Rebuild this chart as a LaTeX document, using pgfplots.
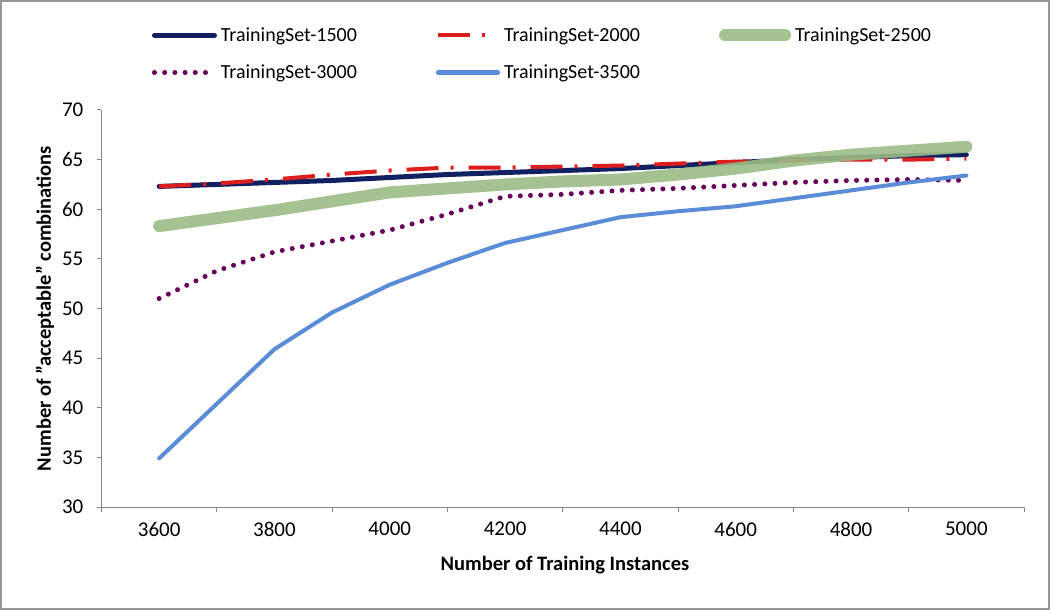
\documentclass[border=0pt]{standalone}
\usepackage{pgfplots}
\pgfplotsset{compat=1.18}
\usepackage{pgfplotstable}
\usepackage{fontspec}
\setmainfont{Carlito}
\definecolor{navyc}{RGB}{16,32,96}
\definecolor{redc}{RGB}{220,30,30}
\definecolor{greenc}{RGB}{155,187,135}
\definecolor{purplec}{RGB}{102,0,90}
\definecolor{bluec}{RGB}{91,140,215}
\definecolor{axisgray}{RGB}{134,134,134}
\definecolor{bordergray}{RGB}{150,150,150}

\pgfplotstableread{
x s1500 s2000 s2500 s3000 s3500
3600 62.3 62.3 58.3 51.0 34.9
3700 62.5 62.6 59.1 53.8 40.4
3800 62.7 63.0 59.9 55.7 45.9
3900 62.9 63.5 60.8 56.8 49.6
4000 63.2 63.9 61.7 57.9 52.4
4100 63.5 64.2 62.1 59.5 54.6
4200 63.7 64.2 62.5 61.3 56.6
4300 63.9 64.3 62.8 61.5 57.9
4400 64.1 64.4 63.0 61.9 59.2
4500 64.4 64.6 63.5 62.1 59.8
4600 64.7 64.8 64.1 62.4 60.3
4700 65.0 64.9 64.9 62.7 61.1
4800 65.2 65.0 65.5 62.9 61.9
4900 65.4 65.0 65.9 63.0 62.7
5000 65.5 65.1 66.3 62.9 63.4
}\datatable

\begin{document}
\begin{tikzpicture}
\begin{axis}[
  at={(0,0)}, anchor=south west,
  scale only axis,
  width=922.5bp, height=397bp,
  xmin=3500, xmax=5100, ymin=30, ymax=70,
  axis x line*=bottom, axis y line*=left,
  axis line style={axisgray, line width=1bp},
  tick style={axisgray, line width=1bp},
  tick align=outside,
  major tick length=5bp,
  xtick={3500,3700,...,5100},
  xticklabels={},
  extra x ticks={3600,3800,...,5000},
  extra x tick style={major tick length=0pt, xticklabel style={anchor=north, inner sep=0pt, yshift=-15bp}},
  ytick={30,35,...,70},
  yticklabel style={anchor=east, inner sep=0pt, xshift=-13bp},
  ticklabel style={font=\fontsize{21bp}{25bp}\selectfont},
  /pgf/number format/assume math mode=true,
  /pgf/number format/1000 sep={},
  xlabel={\textbf{Number of Training Instances}},
  xlabel style={font=\fontsize{20.5bp}{24bp}\selectfont, at={(axis description cs:0.5024,-0.146)}, anchor=center},
  ylabel={\textbf{Number of \char34 acceptable\char34\ combinations}},
  ylabel style={font=\fontsize{20.5bp}{24bp}\selectfont, at={(axis description cs:-0.0612,0.5)}, anchor=center},
  legend columns=3,
  legend image code/.code={\draw[#1] (0bp,0bp) -- (60bp,0bp);},
  legend cell align=left,
  legend style={draw=none, fill=none, inner sep=0pt, outer sep=0pt,
    font=\fontsize{20bp}{24bp}\selectfont,
    at={(axis description cs:0.0547,1.2075)}, anchor=north west,
    nodes={inner sep=0pt, anchor=west},
    /tikz/every odd column/.append style={column sep=4bp},
    /tikz/every even column/.append style={column sep=79bp},
    row sep=22bp},
]
\addplot[navyc, line width=5bp, line cap=round] table[x=x,y=s1500]{\datatable};
\addlegendentry{TrainingSet-1500}
\addplot[redc, line width=4bp, dash pattern=on 32bp off 12bp on 3bp off 15bp] table[x=x,y=s2000]{\datatable};
\addlegendentry{TrainingSet-2000}
\addplot[greenc, line width=12bp, line cap=round, line join=round, opacity=0.9] table[x=x,y=s2500]{\datatable};
\addlegendentry{TrainingSet-2500}
\addplot[purplec, line width=5bp, line cap=round, dash pattern=on 0bp off 10.2bp] table[x=x,y=s3000]{\datatable};
\addlegendentry{TrainingSet-3000}
\addplot[bluec, line width=4bp, line cap=round, line join=round] table[x=x,y=s3500]{\datatable};
\addlegendentry{TrainingSet-3500}
\end{axis}
\draw[bordergray, line width=2bp] (-100.5bp,-102bp) rectangle (947.5bp,506bp);
\end{tikzpicture}
\end{document}
